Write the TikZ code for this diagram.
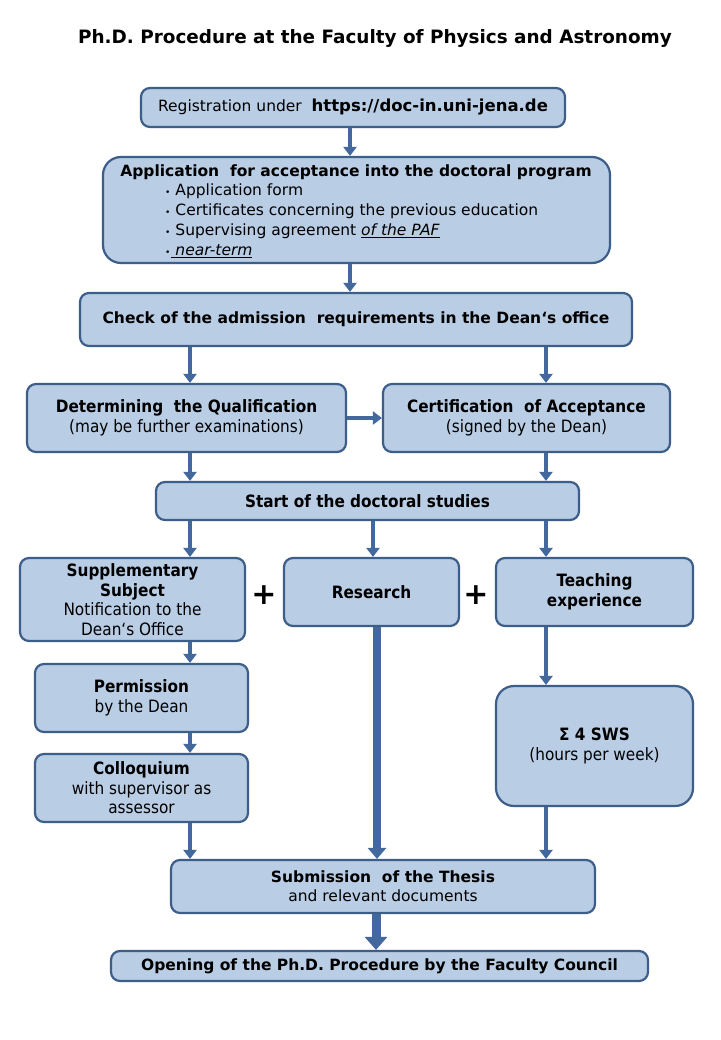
\documentclass[tikz,border=0pt]{standalone}
\usepackage{fontspec}
\setmainfont{DejaVu Sans}
\newfontfamily\cond{DejaVu Sans Condensed}
\usetikzlibrary{arrows.meta}
\definecolor{boxfill}{RGB}{185,205,229}
\definecolor{boxline}{RGB}{62,94,138}
\definecolor{arrowc}{RGB}{66,104,158}
\begin{document}
\begin{tikzpicture}[x=1pt,y=-1pt,
  box/.style={draw=boxline,fill=boxfill,line width=2.2pt,rounded corners=9pt,inner sep=0pt,align=center,text=black},
  arr/.style={draw=arrowc,line width=4pt,-{Triangle[width=13pt,length=9pt]}},
  bigarr/.style={draw=arrowc,line width=8pt,-{Triangle[width=18pt,length=11pt]}},
  hugearr/.style={draw=arrowc,line width=9pt,-{Triangle[width=22pt,length=13pt]}},
  vfont/.style={font=\fontsize{15.5}{19}\selectfont},
  vbold/.style={font=\bfseries\fontsize{15.5}{19}\selectfont},
  cfont/.style={font=\cond\fontsize{17}{19.5}\selectfont},
  cbold/.style={font=\cond\bfseries\fontsize{17}{19.5}\selectfont},
  plus/.style={font=\bfseries\fontsize{30}{30}\selectfont,inner sep=0pt}]
\useasboundingbox[fill=white] (0,0) rectangle (720,1040);

\node[font=\bfseries\fontsize{18.4}{21}\selectfont] (title) at (375,39) {Ph.D. Procedure at the Faculty of Physics and Astronomy};

\node[box,minimum width=424pt,minimum height=39pt,vfont] (reg) at (353,107.5)
  {Registration under\ \ {\bfseries\fontsize{16.5}{19}\selectfont https://doc-in.uni-jena.de}};

\node[box,rounded corners=18pt,minimum width=507pt,minimum height=106pt] (app) at (356.5,210) {};
\node[vbold] (apptitle) at (356,172) {Application\ \ for acceptance into the doctoral program};
\node[anchor=north west,align=left,inner sep=0pt,font=\fontsize{15.5}{20}\selectfont] (applist) at (165,184)
  {{\small•}\ Application form\\
   {\small•}\ Certificates concerning the previous education\\
   {\small•}\ Supervising agreement \underline{\itshape of the PAF}\\
   {\small•}\underline{\itshape\ near-term}};

\node[box,minimum width=552pt,minimum height=53pt,vbold] (chk) at (356,319.5)
  {Check of the admission\ \ requirements in the Dean‘s office};

\node[box,minimum width=319pt,minimum height=68pt,cfont] (det) at (186.5,418)
  {{\bfseries Determining\ \ the Qualification}\\(may be further examinations)};
\node[box,minimum width=287pt,minimum height=68pt,cfont] (cert) at (526.5,418)
  {{\bfseries Certification\ \ of Acceptance}\\(signed by the Dean)};

\node[box,minimum width=423pt,minimum height=38pt,cbold] (start) at (367.5,501)
  {Start of the doctoral studies};

\node[box,minimum width=225pt,minimum height=83pt,cfont] (supp) at (132.5,599.5)
  {{\bfseries Supplementary}\\{\bfseries Subject}\\Notification to the\\Dean‘s Office};
\node[box,minimum width=175pt,minimum height=68pt,cbold] (res) at (371.5,592)
  {Research};
\node[box,minimum width=197pt,minimum height=68pt,cbold] (teach) at (594.5,592)
  {Teaching\\experience};

\node[plus] (plus1) at (264,595) {+};
\node[plus] (plus2) at (476,595) {+};

\node[box,minimum width=213pt,minimum height=68pt,cfont] (perm) at (141.5,698)
  {{\bfseries Permission}\\by the Dean};
\node[box,minimum width=213pt,minimum height=68pt,cfont] (coll) at (141.5,788)
  {{\bfseries Colloquium}\\with supervisor as\\assessor};
\node[box,rounded corners=18pt,minimum width=197pt,minimum height=120pt,cfont] (sum) at (594.5,746)
  {{\bfseries Σ 4 SWS}\\(hours per week)};

\node[box,minimum width=424pt,minimum height=53pt,vfont] (sub) at (383,886.5)
  {{\bfseries Submission\ \ of the Thesis}\\and relevant documents};

\node[box,minimum width=537pt,minimum height=30pt,vbold] (open) at (379.5,966)
  {Opening of the Ph.D. Procedure by the Faculty Council};

% x positions for connectors
\coordinate (xm) at (350,0);
\coordinate (xl) at (190,0);
\coordinate (xr) at (546,0);
\coordinate (xres) at (373,0);
\coordinate (xresb) at (377,0);
\coordinate (xsub) at (376,0);

\draw[arr] (reg.south -| xm) -- (app.north -| xm);
\draw[arr] (app.south -| xm) -- (chk.north -| xm);
\draw[arr] (chk.south -| xl) -- (det.north -| xl);
\draw[arr] (chk.south -| xr) -- (cert.north -| xr);
\draw[arr] (det.east) -- (cert.west);
\draw[arr] (det.south -| xl) -- (start.north -| xl);
\draw[arr] (cert.south -| xr) -- (start.north -| xr);
\draw[arr] (start.south -| xl) -- (supp.north -| xl);
\draw[arr] (start.south -| xres) -- (res.north -| xres);
\draw[arr] (start.south -| xr) -- (teach.north -| xr);
\draw[arr] (supp.south -| xl) -- (perm.north -| xl);
\draw[arr] (perm.south -| xl) -- (coll.north -| xl);
\draw[arr] (coll.south -| xl) -- (sub.north -| xl);
\draw[bigarr] (res.south -| xresb) -- (sub.north -| xresb);
\draw[arr] (teach.south -| xr) -- (sum.north -| xr);
\draw[arr] (sum.south -| xr) -- (sub.north -| xr);
\draw[hugearr] (sub.south -| xsub) -- (open.north -| xsub);
\end{tikzpicture}
\end{document}
